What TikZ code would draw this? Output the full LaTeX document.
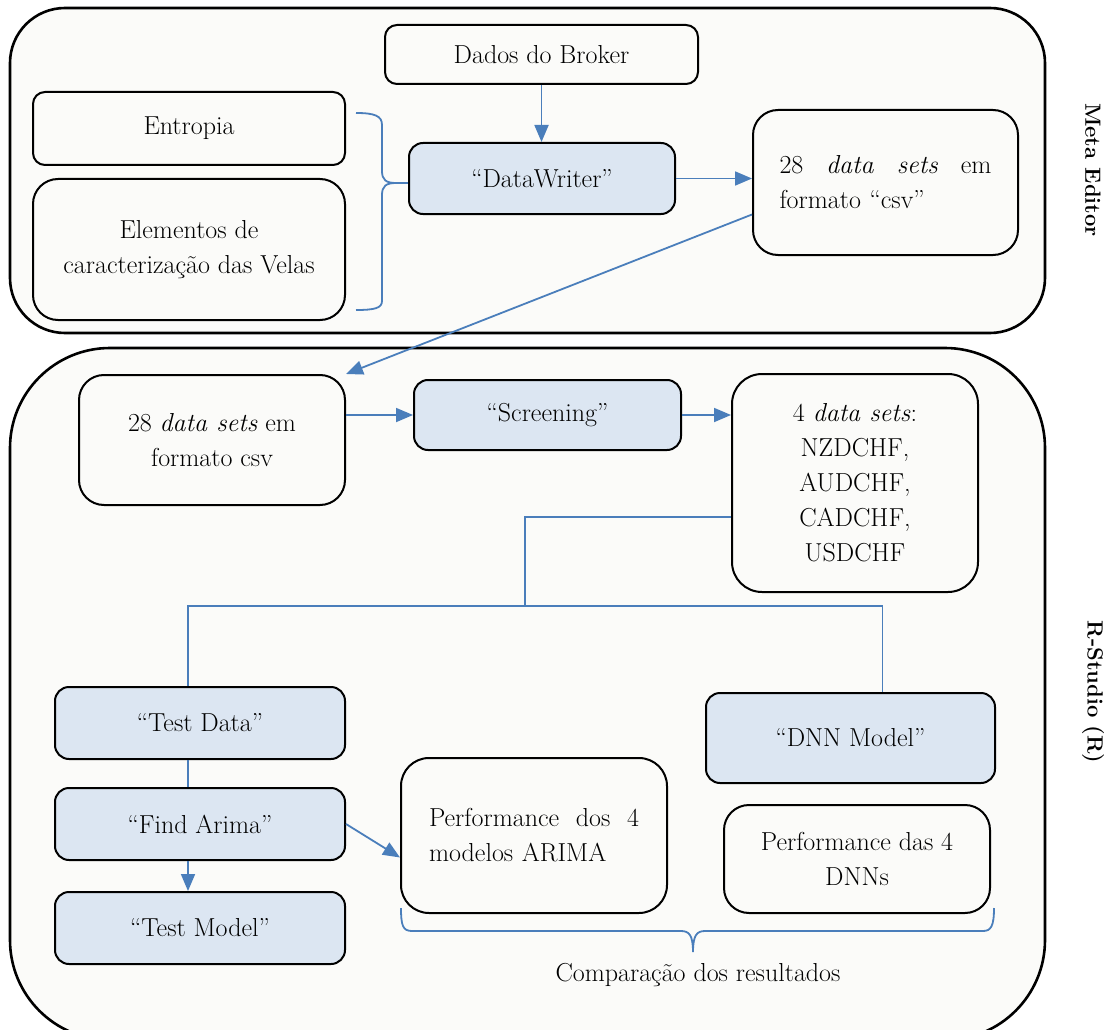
\documentclass[tikz,border=0pt]{standalone}
\usepackage{fontspec}
\usepackage{tikz}
\usetikzlibrary{arrows.meta}

\definecolor{panelfill}{HTML}{FBFBF9}
\definecolor{boxblue}{HTML}{DCE6F2}
\definecolor{linkblue}{HTML}{4A7EBB}
\newcommand{\boxfont}{\fontsize{26}{35}\selectfont}
\newcommand{\sidefont}{\bfseries\fontsize{22}{26}\selectfont}

\begin{document}
\begin{tikzpicture}[x=1pt,y=-1pt,
    panel/.style={draw=black, line width=2.6pt, fill=panelfill},
    box/.style={draw=black, line width=2pt, fill=panelfill, rounded corners=12pt,
        font=\boxfont, align=center, inner sep=0pt},
    bluebox/.style={box, fill=boxblue, rounded corners=14pt},
    conn/.style={draw=linkblue, line width=1.8pt},
    arr/.style={conn, -{Triangle[length=17pt,width=14pt]}}]

\clip (0,0) rectangle (1109,1030);
\fill[white] (0,0) rectangle (1109,1030);

% the two areas
\draw[panel, rounded corners=55pt] (10,8) rectangle (1045,333);
\draw[panel, rounded corners=100pt] (10,348) rectangle (1045,1040);

\node[rotate=-90, font=\sidefont] (metalabel) at (1093,170) {Meta Editor};
\node[rotate=-90, font=\sidefont] (rlabel) at (1093,692) {R-Studio (R)};

% Meta Editor
\node[box, minimum width=313pt, minimum height=59pt] (broker) at (541.5,54.5) {Dados do Broker};
\node[box, minimum width=312pt, minimum height=73pt] (entropia) at (189,128.5) {Entropia};
\node[box, rounded corners=25pt, minimum width=312pt, minimum height=141pt] (velas) at (189,249.5) {Elementos de\\caracterização das Velas};
\node[bluebox, minimum width=266pt, minimum height=71pt] (writer) at (542,178.5) {“DataWriter”};
\node[box, rounded corners=25pt, minimum width=265pt, minimum height=145pt, text width=212pt, align=left] (csvA) at (885.5,182.5)
    {\hbox to 212pt{28\hfill\emph{data}\hfill\emph{sets}\hfill em}\\formato “csv”};

% R-Studio
\node[box, rounded corners=25pt, minimum width=266pt, minimum height=130pt] (csvB) at (212,440) {28 \emph{data sets} em\\formato csv};
\node[bluebox, minimum width=267pt, minimum height=70pt] (screening) at (547.5,415) {“Screening”};
\node[box, rounded corners=30pt, minimum width=246pt, minimum height=218pt] (fourds) at (855,483)
    {4 \emph{data sets}:\\NZDCHF,\\AUDCHF,\\CADCHF,\\USDCHF};

\node[bluebox, minimum width=290pt, minimum height=72pt] (testdata) at (200,723) {“Test Data”};
\node[bluebox, minimum width=290pt, minimum height=72pt] (findarima) at (200,824) {“Find Arima”};
\node[bluebox, minimum width=290pt, minimum height=72pt] (testmodel) at (200,928) {“Test Model”};
\node[bluebox, minimum width=289pt, minimum height=90pt] (dnn) at (850.5,738) {“DNN Model”};

\node[box, rounded corners=28pt, minimum width=266pt, minimum height=155pt, text width=210pt, align=left] (perfarima) at (534,835.5)
    {\hbox to 210pt{Performance\hfill dos\hfill 4}\\modelos ARIMA};
\node[box, rounded corners=25pt, minimum width=266pt, minimum height=108pt] (perfdnn) at (857,859) {Performance das 4\\DNNs};

\node[font=\boxfont, inner sep=0pt] (compar) at (698,975) {Comparação dos resultados};

% connectors
\draw[conn] (356,113) .. controls (375,113) and (382,116) .. (382,125) -- (382,171)
    .. controls (382,180) and (386,183) .. (396,183)
    .. controls (386,183) and (382,186) .. (382,195) -- (382,301)
    .. controls (382,308) and (375,310) .. (356,310);
\coordinate (btip) at (396,183);
\draw[conn] (btip) -- (btip -| writer.west);

\draw[arr] (broker.south) -- (broker.south |- writer.north);
\draw[arr] (writer.east) -- (writer.east -| csvA.west);
\draw[arr] ([yshift=-32pt]csvA.west) -- (csvB.north east);
\draw[arr] (screening.west -| csvB.east) -- (screening.west);
\draw[arr] (screening.east) -- (screening.east -| fourds.west);

\coordinate (split) at (525,606);
\draw[conn] ([yshift=-34pt]fourds.west) -| (split);
\draw[conn] ([xshift=-12pt]testdata.north) |- (split) -| ([xshift=32pt]dnn.north);
\draw[conn] ([xshift=-12pt]testdata.south) -- ([xshift=-12pt]findarima.north);
\draw[arr] ([xshift=-12pt]findarima.south) -- ([xshift=-12pt]testmodel.north);
\draw[arr] (findarima.east) -- ([yshift=-22pt]perfarima.west);

\draw[conn] (401,908) .. controls (401,926) and (403,931) .. (412,931) -- (681,931)
    .. controls (689,931) and (693,935) .. (693,952)
    .. controls (693,935) and (697,931) .. (705,931) -- (983,931)
    .. controls (991,931) and (994,926) .. (994,908);

\end{tikzpicture}
\end{document}
